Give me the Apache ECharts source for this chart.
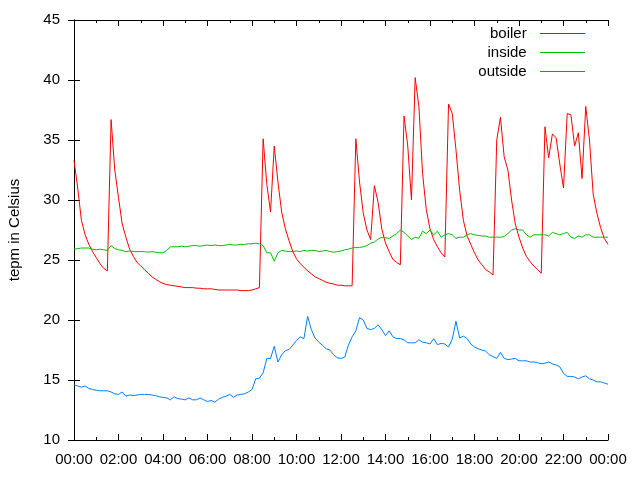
<!DOCTYPE html>
<html>
<head>
<meta charset="utf-8">
<script src="https://cdn.jsdelivr.net/npm/echarts@6/dist/echarts.min.js"></script>
<style>
  html, body { margin: 0; padding: 0; background: #fff; }
  #chart { width: 640px; height: 480px; }
</style>
</head>
<body>
<div id="chart"></div>
<script>
// one reading every 10 minutes, 00:00 .. 24:00
const stepMinutes = 10;
const seriesNames = ['boiler', 'inside', 'outside'];
const seriesColors = ['#ff0000', '#00c000', '#0080ff'];

const boiler = [
  33.3, 31.0, 28.3, 27.1, 26.3, 25.7, 25.2, 24.7, 24.3, 24.1, 36.7, 32.5,
  30.2, 28.0, 26.9, 25.9, 25.3, 24.8, 24.5, 24.2, 23.9, 23.6, 23.4, 23.2,
  23.05, 22.95, 22.9, 22.85, 22.8, 22.75, 22.7, 22.7, 22.7, 22.65, 22.65, 22.6,
  22.6, 22.6, 22.55, 22.5, 22.5, 22.5, 22.5, 22.5, 22.5, 22.45, 22.45, 22.45,
  22.5, 22.6, 22.7, 35.1, 31.3, 29.0, 34.5, 31.5, 29.0, 27.6, 26.6, 25.7,
  25.1, 24.7, 24.4, 24.1, 23.85, 23.6, 23.45, 23.3, 23.15, 23.06, 23.0, 22.9,
  22.9, 22.85, 22.85, 22.85, 35.1, 31.5, 28.9, 27.5, 26.7, 31.2, 29.8, 27.6,
  26.4, 25.7, 25.05, 24.8, 24.6, 37.0, 34.5, 30.0, 40.2, 37.8, 32.2, 29.2,
  27.6, 26.7, 26.1, 25.6, 25.25, 38.0, 37.2, 34.2, 30.8, 28.3, 27.0, 26.3,
  25.6, 25.0, 24.6, 24.2, 24.0, 23.75, 35.0, 36.9, 33.6, 32.5, 30.0, 28.0,
  26.9, 26.0, 25.3, 24.86, 24.5, 24.2, 23.9, 36.1, 33.5, 35.5, 35.2, 33.0,
  31.0, 37.2, 37.1, 34.5, 35.6, 31.8, 37.8, 35.0, 30.5, 28.9, 27.7, 26.8, 26.3
];

const inside = [
  25.9, 25.95, 26.0, 26.0, 26.0, 25.9, 25.85, 25.9, 25.85, 25.8, 26.2, 25.95,
  25.85, 25.8, 25.7, 25.75, 25.7, 25.7, 25.7, 25.7, 25.65, 25.7, 25.65, 25.6,
  25.6, 25.8, 26.1, 26.1, 26.1, 26.15, 26.1, 26.15, 26.2, 26.2, 26.15, 26.2,
  26.25, 26.2, 26.25, 26.2, 26.2, 26.25, 26.3, 26.25, 26.25, 26.3, 26.3, 26.35,
  26.35, 26.4, 26.35, 26.2, 25.6, 25.6, 24.9, 25.6, 25.8, 25.75, 25.7, 25.7,
  25.75, 25.7, 25.8, 25.75, 25.8, 25.8, 25.7, 25.75, 25.8, 25.7, 25.65, 25.7,
  25.75, 25.85, 25.9, 26.0, 26.05, 26.05, 26.1, 26.2, 26.4, 26.5, 26.75, 26.9,
  26.85, 26.8, 27.0, 27.2, 27.5, 27.3, 27.0, 26.7, 26.9, 26.8, 27.4, 27.2,
  27.5, 27.1, 27.4, 26.9, 27.1, 27.2, 27.1, 26.8, 26.9, 26.9, 27.1, 27.2,
  27.1, 27.05, 27.0, 27.0, 26.9, 26.9, 26.9, 26.9, 26.95, 27.2, 27.5, 27.6,
  27.5, 27.5, 27.1, 26.9, 27.1, 27.1, 27.1, 27.1, 27.0, 27.3, 27.2, 27.1,
  27.2, 27.3, 26.9, 26.8, 27.0, 26.9, 27.1, 27.1, 26.9, 26.9, 26.9, 26.9, 26.9
];

const outside = [
  14.6, 14.5, 14.4, 14.5, 14.3, 14.2, 14.15, 14.1, 14.1, 14.1, 14.0, 13.85,
  13.8, 14.0, 13.65, 13.75, 13.7, 13.75, 13.8, 13.8, 13.8, 13.75, 13.7, 13.6,
  13.55, 13.5, 13.35, 13.6, 13.45, 13.4, 13.35, 13.5, 13.35, 13.35, 13.5, 13.35,
  13.2, 13.3, 13.15, 13.4, 13.55, 13.65, 13.8, 13.56, 13.75, 13.8, 13.85, 14.0,
  14.2, 15.1, 15.15, 15.6, 16.8, 16.8, 17.8, 16.5, 17.1, 17.45, 17.55, 17.9,
  18.3, 18.6, 18.45, 20.3, 19.2, 18.5, 18.15, 17.9, 17.6, 17.5, 17.1, 16.85,
  16.8, 16.9, 17.9, 18.6, 19.1, 20.2, 20.0, 19.3, 19.2, 19.3, 19.6, 19.2,
  18.7, 19.1, 18.6, 18.45, 18.45, 18.35, 18.1, 18.1, 18.1, 18.35, 18.15, 18.1,
  18.0, 18.45, 17.95, 18.05, 18.0, 17.75, 18.4, 19.9, 18.5, 18.65, 18.45, 18.0,
  17.75, 17.6, 17.5, 17.4, 17.1, 16.95, 16.8, 17.3, 16.8, 16.7, 16.75, 16.8,
  16.6, 16.6, 16.6, 16.5, 16.5, 16.45, 16.35, 16.4, 16.5, 16.35, 16.25, 16.1,
  15.55, 15.3, 15.3, 15.25, 15.1, 15.25, 15.35, 15.1, 15.0, 14.85, 14.85, 14.75, 14.65
];

const font = '"Liberation Sans", Arial, sans-serif';
const fontSize = 15;

function toClock(minutes) {
  const h = Math.floor(minutes / 60) % 24;
  const m = minutes % 60;
  return String(h).padStart(2, '0') + ':' + String(m).padStart(2, '0');
}

function withTimes(values) {
  return values.map((v, i) => [i * stepMinutes, v]);
}

const tickStyle = { show: true, inside: true, length: 6, lineStyle: { color: '#000', width: 1 } };
const lineStyle = { show: true, lineStyle: { color: '#000', width: 1 } };
const minorStyle = { show: true, splitNumber: 2, length: 3, lineStyle: { color: '#000' } };

const chart = echarts.init(document.getElementById('chart'));

const option = {
  animation: false,
  backgroundColor: '#fff',
  grid: { left: 74, right: 32, top: 20, bottom: 40, outerBoundsMode: 'none' },
  // gnuplot key: one legend per entry so the texts line up on the right
  legend: seriesNames.map((name, i) => ({
    id: 'key-' + name,
    data: [name],
    right: 50,
    top: 21 + i * 19,
    align: 'right',
    icon: 'path://M0,0H45V1H0Z',
    itemWidth: 45,
    itemHeight: 1,
    itemStyle: { color: seriesColors[i], borderWidth: 0 },
    formatter: n => n + '  ',
    textStyle: { fontFamily: font, fontSize: fontSize, color: '#000' }
  })),
  xAxis: [
    {
      type: 'value',
      min: 0,
      max: 1440,
      interval: 120,
      axisLine: lineStyle,
      axisTick: tickStyle,
      minorTick: minorStyle,
      splitLine: { show: false },
      axisLabel: {
        margin: 12,
        fontFamily: font,
        fontSize: fontSize,
        color: '#000',
        formatter: v => toClock(v)
      }
    },
    {
      type: 'value',
      position: 'top',
      min: 0,
      max: 1440,
      interval: 120,
      axisLine: lineStyle,
      axisTick: tickStyle,
      minorTick: minorStyle,
      splitLine: { show: false },
      axisLabel: { show: false }
    }
  ],
  yAxis: [
    {
      type: 'value',
      min: 10,
      max: 45,
      interval: 5,
      name: 'tepm in Celsius',
      nameLocation: 'middle',
      nameGap: 52,
      nameTextStyle: { fontFamily: font, fontSize: fontSize, color: '#000' },
      axisLine: lineStyle,
      axisTick: tickStyle,
      splitLine: { show: false },
      axisLabel: { margin: 14, fontFamily: font, fontSize: fontSize, color: '#000' }
    },
    {
      type: 'value',
      position: 'right',
      min: 10,
      max: 45,
      interval: 5,
      axisLine: lineStyle,
      axisTick: tickStyle,
      splitLine: { show: false },
      axisLabel: { show: false }
    }
  ],
  series: [boiler, inside, outside].map((values, i) => ({
    id: 'line-' + seriesNames[i],
    name: seriesNames[i],
    type: 'line',
    xAxisIndex: 0,
    yAxisIndex: 0,
    data: withTimes(values),
    showSymbol: false,
    itemStyle: { color: seriesColors[i] },
    lineStyle: { width: 1, color: seriesColors[i] }
  }))
};

chart.setOption(option);
</script>
</body>
</html>
